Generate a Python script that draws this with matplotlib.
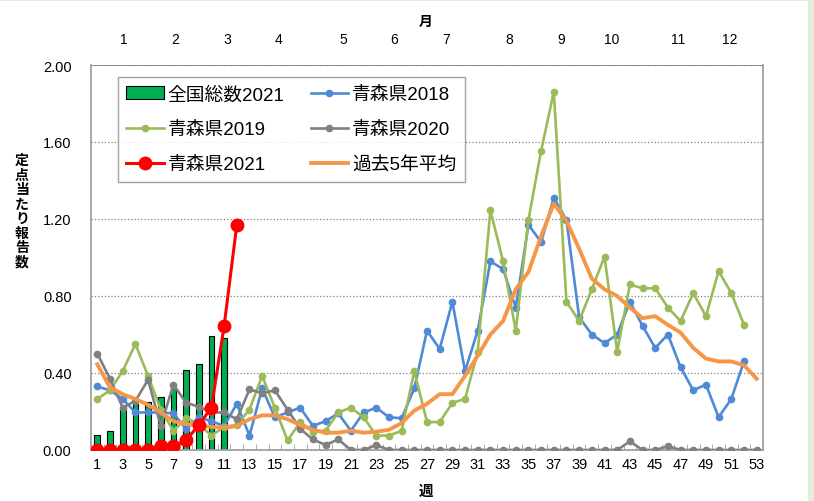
import numpy as np
import matplotlib
matplotlib.use("Agg")
from matplotlib import pyplot as plt
from matplotlib.patches import Rectangle

plt.rcParams['font.family'] = ['Liberation Sans', 'Noto Sans CJK JP']

weeks = np.arange(1, 54)

national_2021 = [0.08, 0.10, 0.22, 0.24, 0.25, 0.275, 0.32, 0.415, 0.445, 0.59, 0.58]
aomori_2021 = [0, 0, 0, 0, 0, 0.02, 0.02, 0.05, 0.13, 0.22, 0.645, 1.17]
aomori_2018 = [0.33, 0.31, 0.265, 0.195, 0.195, 0.195, 0.19, 0.11, 0.17, 0.15,
               0.125, 0.24, 0.075, 0.32, 0.17, 0.195, 0.22, 0.125, 0.15, 0.19,
               0.10, 0.195, 0.22, 0.17, 0.165, 0.32, 0.62, 0.525, 0.77, 0.41,
               0.62, 0.98, 0.94, 0.74, 1.17, 1.08, 1.31, 1.195, 0.69, 0.60,
               0.555, 0.60, 0.77, 0.645, 0.53, 0.60, 0.43, 0.31, 0.34, 0.17,
               0.265, 0.46]
aomori_2019 = [0.265, 0.31, 0.41, 0.55, 0.385, 0.21, 0.10, 0.165, 0.135, 0.075,
               0.12, 0.13, 0.21, 0.385, 0.22, 0.05, 0.145, 0.095, 0.10, 0.195,
               0.22, 0.17, 0.075, 0.075, 0.10, 0.41, 0.145, 0.145, 0.245, 0.265,
               0.51, 1.245, 0.98, 0.62, 1.195, 1.555, 1.86, 0.77, 0.67, 0.835,
               1.005, 0.51, 0.86, 0.84, 0.84, 0.74, 0.67, 0.815, 0.695, 0.93,
               0.815, 0.65]
aomori_2020 = [0.50, 0.37, 0.22, 0.255, 0.365, 0.125, 0.34, 0.245, 0.225, 0.195,
               0.195, 0.16, 0.315, 0.295, 0.31, 0.21, 0.11, 0.055, 0.026, 0.055,
               0.0, 0.0, 0.026, 0, 0, 0, 0, 0, 0, 0,
               0, 0, 0, 0, 0, 0, 0, 0, 0, 0,
               0, 0, 0.045, 0, 0, 0.02, 0, 0, 0, 0,
               0, 0, 0]
avg_5y = [0.445, 0.325, 0.29, 0.265, 0.235, 0.195, 0.15, 0.135, 0.125, 0.12,
          0.115, 0.125, 0.16, 0.18, 0.18, 0.16, 0.13, 0.105, 0.09, 0.09,
          0.10, 0.09, 0.095, 0.105, 0.14, 0.205, 0.24, 0.29, 0.29, 0.385,
          0.49, 0.60, 0.67, 0.835, 0.925, 1.11, 1.28, 1.19, 1.045, 0.89,
          0.835, 0.80, 0.74, 0.685, 0.695, 0.65, 0.61, 0.53, 0.475, 0.46,
          0.46, 0.44, 0.37]

month_labels = ['1', '2', '3', '4', '5', '6', '7', '8', '9', '10', '11', '12']
month_pos = [3.05, 7.15, 11.25, 15.3, 20.4, 24.4, 28.5, 33.5, 37.6, 41.6, 46.8, 50.9]

fig = plt.figure(figsize=(8.14, 5.02), dpi=100)
fig.patch.set_facecolor('white')
# light green strip on the right / top like the page border
fig.patches.append(Rectangle((808 / 814, 0), 6 / 814, 1, transform=fig.transFigure,
                             facecolor='#e2efd9', edgecolor='none', zorder=0))
fig.patches.append(Rectangle((0, 1 - 2 / 502), 1, 2 / 502, transform=fig.transFigure,
                             facecolor='#e2efd9', edgecolor='none', zorder=0))

ax = fig.add_axes([91 / 814, 1 - 451 / 502, 672 / 814, 385 / 502])

ax.bar(weeks[:len(national_2021)], national_2021, width=0.45, color='#00b050',
       edgecolor='black', linewidth=0.8, zorder=2, label='全国総数2021')
ax.plot(weeks[:len(aomori_2018)], aomori_2018, color='#4f8ad6', lw=1.9, marker='o',
        ms=4.5, zorder=3, label='青森県2018')
ax.plot(weeks[:len(aomori_2019)], aomori_2019, color='#9bbb59', lw=1.9, marker='o',
        ms=4.5, zorder=3, label='青森県2019')
ax.plot(weeks[:len(aomori_2020)], aomori_2020, color='#808080', lw=1.9, marker='o',
        ms=4.5, zorder=3, label='青森県2020')
ax.plot(weeks[:len(avg_5y)], avg_5y, color='#f79646', lw=2.8, zorder=4,
        label='過去5年平均')
ax.plot(weeks[:len(aomori_2021)], aomori_2021, color='#ff0000', lw=2.2, marker='o',
        ms=9, zorder=5, label='青森県2021')

ax.set_xlim(0.5, 53.5)
ax.set_ylim(0, 2.0)
ax.set_yticks(np.arange(0, 2.01, 0.4))
ax.set_yticklabels([f'{v:.2f}' for v in np.arange(0, 2.01, 0.4)], fontsize=10.5)
ax.set_xticks(np.arange(1, 54, 2))
ax.set_xticklabels([str(w) for w in range(1, 54, 2)], fontsize=10.5)
ax.set_xticks(np.arange(0.5, 54, 1), minor=True)
ax.tick_params(axis='x', which='major', length=0, pad=5)
ax.tick_params(axis='x', which='minor', length=4, color='#a0a0a0', direction='in')
ax.tick_params(axis='y', length=0, pad=14)
ax.grid(axis='y', color='#808080', linestyle=':', linewidth=0.9, zorder=0)
for s in ax.spines.values():
    s.set_color('#a0a0a0')
    s.set_linewidth(1.3)
ax.spines['top'].set_visible(False)
ax.axhline(2.0, color='#8c8c8c', lw=1.3, zorder=1)

top = ax.twiny()
top.set_xlim(ax.get_xlim())
top.set_xticks(month_pos)
top.set_xticklabels(month_labels, fontsize=10)
top.tick_params(length=0, pad=14)
for s in top.spines.values():
    s.set_visible(False)

fig.text(426 / 814, 1 - 22 / 502, '月', fontsize=10, fontweight='bold',
         ha='center', va='center')
fig.text(426 / 814, 1 - 492 / 502, '週', fontsize=10.5, fontweight='bold',
         ha='center', va='center')
fig.text(22 / 814, 1 - 212 / 502, '\n'.join('定点当たり報告数'), fontsize=10,
         fontweight='bold', ha='center', va='center', linespacing=1.05)

h, l = ax.get_legend_handles_labels()
order = ['全国総数2021', '青森県2019', '青森県2021', '青森県2018', '青森県2020', '過去5年平均']
hd = dict(zip(l, h))
leg = ax.legend([hd[k] for k in order], order, ncol=2, loc='upper left',
                bbox_to_anchor=(0.040, 0.968), borderaxespad=0, fontsize=13.5,
                frameon=True, fancybox=False, edgecolor='#8c8c8c', handlelength=2.0,
                handletextpad=0.2, columnspacing=1.4, labelspacing=0.95,
                borderpad=0.45)
leg.get_frame().set_linewidth(1.0)
leg.set_zorder(10)

fig.savefig('out.png', dpi=100)
